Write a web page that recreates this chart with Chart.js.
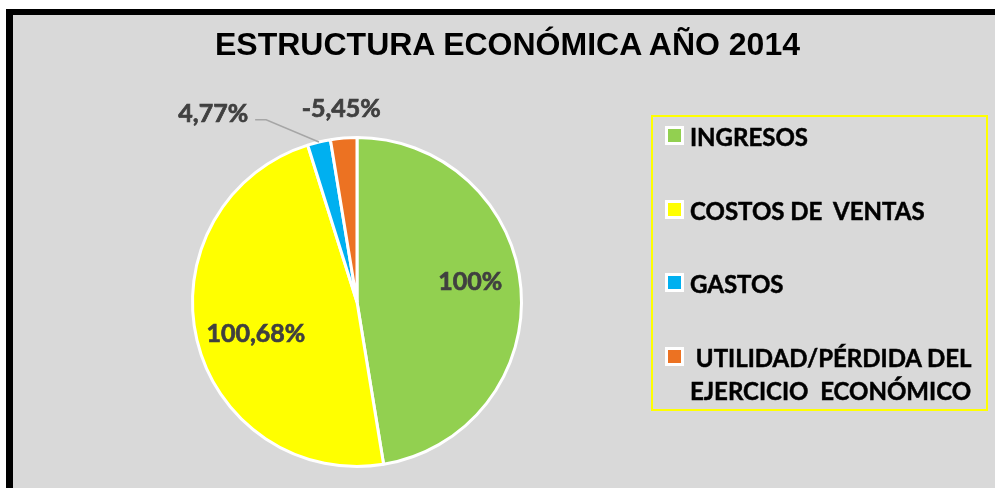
<!DOCTYPE html>
<html>
<head>
<meta charset="utf-8">
<script src="https://cdn.jsdelivr.net/npm/chart.js@4.4.1/dist/chart.umd.min.js"></script>
<style>
  html, body { margin: 0; padding: 0; background: #ffffff; width: 995px; height: 488px; overflow: hidden; }
  #frame { position: absolute; left: 6px; top: 9px; width: 1100px; height: 600px; background: #d9d9d9;
           border-left: 7px solid #000; border-top: 6px solid #000; box-sizing: border-box; }
  #title { position: absolute; left: 0; width: 1015px; top: 25px; text-align: center;
           font-family: "Liberation Sans", Arial, sans-serif; font-weight: bold; font-size: 32px; color: #000; line-height: 38px; }
  #chartWrap { position: absolute; left: 0; top: 0; width: 995px; height: 488px; }
  #legend { position: absolute; left: 651px; top: 115px; width: 337px; height: 296px; box-sizing: border-box;
            border: 2px solid #ffff00; }
  .item { position: absolute; left: 12px; display: flex; align-items: flex-start; }
  .mark { width: 13px; height: 13px; border: 3px solid #ffffff; margin-top: 6px; flex: none; }
  .txt { margin-left: 6px; font-family: Lato, "Open Sans", sans-serif; font-weight: bold; font-size: 24px;
         color: #000; white-space: pre; line-height: 33px; -webkit-text-stroke: 0.5px #000; }
</style>
</head>
<body>
<div id="frame"></div>
<div id="chartWrap"><canvas id="c" width="995" height="488"></canvas></div>
<div id="title"></div>
<div id="legend"></div>
<script>
const chartTitle = 'ESTRUCTURA ECONÓMICA AÑO 2014';
const categories = ['INGRESOS', 'COSTOS DE  VENTAS', 'GASTOS', ' UTILIDAD/PÉRDIDA DEL\nEJERCICIO  ECONÓMICO'];
const percentValues = [100, 100.68, 4.77, -5.45];
const sliceColors = ['#92d050', '#ffff00', '#00b0f0', '#ec7222'];

function fmtPct(v) {
  return (Number.isInteger(v) ? String(v) : v.toFixed(2).replace('.', ',')) + '%';
}

document.getElementById('title').textContent = chartTitle;

// HTML legend built from the data arrays
const legendEl = document.getElementById('legend');
const rowTops = [3, 77, 150, 224];
categories.forEach((cat, i) => {
  const row = document.createElement('div');
  row.className = 'item';
  row.style.top = rowTops[i] + 'px';
  const m = document.createElement('div');
  m.className = 'mark';
  m.style.background = sliceColors[i];
  const t = document.createElement('div');
  t.className = 'txt';
  t.textContent = cat;
  row.appendChild(m); row.appendChild(t);
  legendEl.appendChild(row);
});

const labelPlacement = {
  radius: [0.70, 0.644, 1.44, 1.18],
  shiftDeg: [-5.5, -4, -24, 0],
  leader: [false, false, true, false]
};

const pieLabels = {
  id: 'pieLabels',
  afterDatasetsDraw(chart) {
    const ctx = chart.ctx;
    const meta = chart.getDatasetMeta(0);
    ctx.save();
    ctx.font = 'bold 25px Lato, "Open Sans", sans-serif';
    ctx.fillStyle = '#404040';
    ctx.strokeStyle = '#404040';
    ctx.lineWidth = 0.7;
    ctx.textAlign = 'center';
    ctx.textBaseline = 'middle';
    meta.data.forEach((arc, i) => {
      const p = arc.getProps(['x', 'y', 'startAngle', 'endAngle', 'outerRadius'], true);
      const mid = (p.startAngle + p.endAngle) / 2;
      const a = mid + labelPlacement.shiftDeg[i] * Math.PI / 180;
      const R = p.outerRadius * labelPlacement.radius[i];
      const lx = p.x + Math.cos(a) * R;
      const ly = p.y + Math.sin(a) * R;
      const text = fmtPct(percentValues[i]);
      ctx.fillText(text, lx, ly);
      ctx.strokeText(text, lx, ly);
      if (labelPlacement.leader[i]) {
        const w = ctx.measureText(text).width;
        const sx = lx + w / 2 + 7;
        const sy = ly + 6;
        const ex = p.x + Math.cos(mid) * p.outerRadius;
        const ey = p.y + Math.sin(mid) * p.outerRadius;
        ctx.save();
        ctx.beginPath();
        ctx.strokeStyle = '#a6a6a6';
        ctx.lineWidth = 1.5;
        ctx.moveTo(sx, sy);
        ctx.lineTo(sx + 11, sy);
        ctx.lineTo(ex, ey);
        ctx.stroke();
        ctx.restore();
      }
    });
    ctx.restore();
  }
};

new Chart(document.getElementById('c'), {
  type: 'pie',
  data: {
    labels: categories,
    datasets: [{
      data: percentValues.map(Math.abs),
      backgroundColor: sliceColors,
      borderColor: '#ffffff',
      borderWidth: 3
    }]
  },
  options: {
    responsive: false,
    animation: false,
    layout: { padding: { left: 191, right: 472, top: 136, bottom: 20 } },
    plugins: {
      legend: { display: false },
      title: { display: false },
      tooltip: { enabled: false }
    }
  },
  plugins: [pieLabels]
});
</script>
</body>
</html>
